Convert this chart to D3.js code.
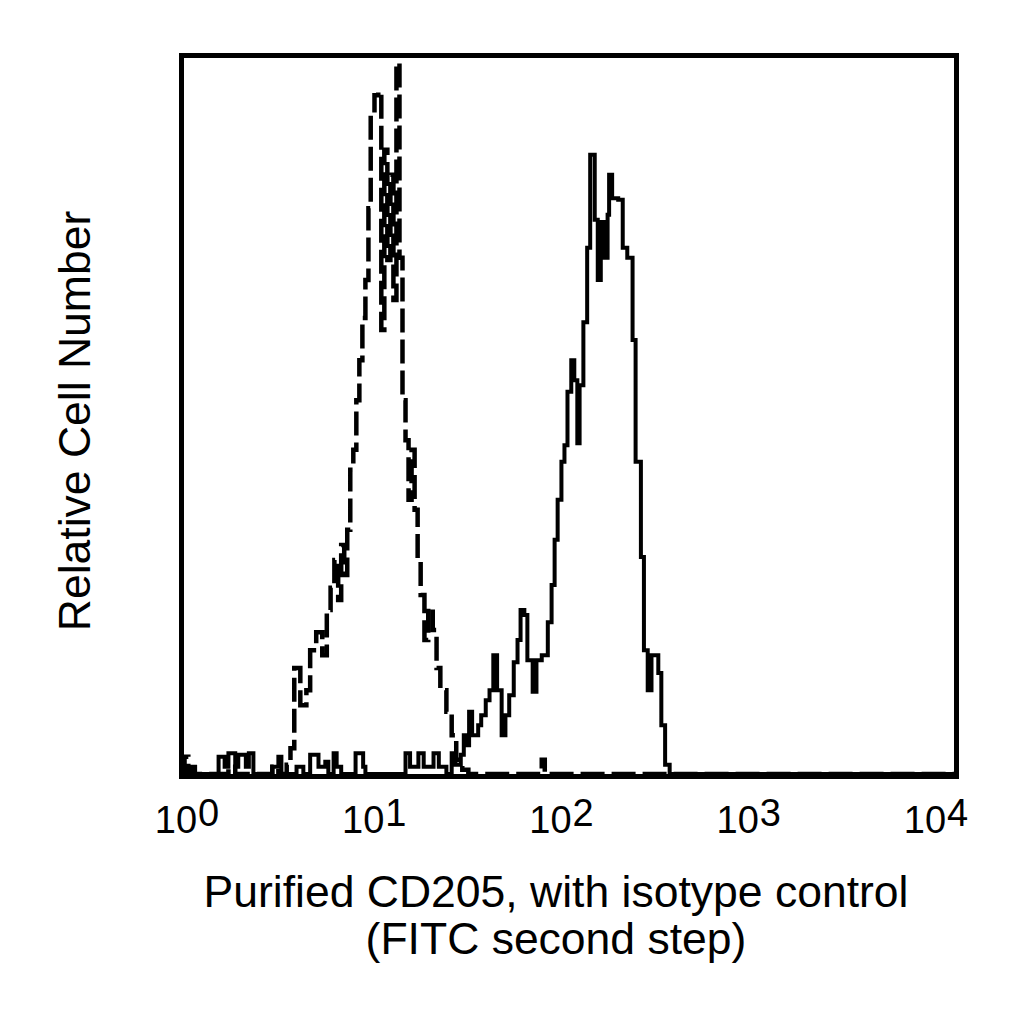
<!DOCTYPE html>
<html>
<head>
<meta charset="utf-8">
<script src="https://cdn.jsdelivr.net/npm/d3@7"></script>
<style>
  html, body { margin: 0; padding: 0; background: #fff; }
  svg { display: block; }
  text { font-family: "Liberation Sans", Arial, sans-serif; fill: #000; }
</style>
</head>
<body>
<svg id="chart" width="1024" height="1024"></svg>
<script>
const WIDTH = 1024;
const HEIGHT = 1024;

// log-amplified channels (0-1024 over 4 decades) and relative counts
const isotypeChannels = [0, 4, 9, 62, 71, 120, 128, 139, 144, 149, 157, 165, 170, 178, 186, 192, 197, 202, 207, 211,
  215, 219, 223, 227, 231, 235, 239, 243, 247, 250, 255, 260, 264, 268, 272, 276, 280, 284, 288, 292,
  296, 300, 304, 308, 312, 316, 321, 326, 332, 337, 342, 350, 357, 363, 371, 379, 473, 476, 480, 1024];
const isotypeCounts = [0, 2.4, 0, 1.0, 0, 1.0, 0, 1.3, 3.6, 14.8, 9.6, 11.7, 17.3, 19.8, 16.6, 22.9, 26.0, 29.9, 24.3, 32.0,
  27.8, 34.1, 42.5, 45.3, 52.2, 57.8, 63.7, 69.0, 79.0, 92.0, 94.8, 95.3, 62.0, 87.2, 71.8, 83.7, 66.2, 99.3, 72.1, 52.2,
  46.6, 38.3, 45.3, 36.9, 29.9, 25.0, 18.7, 23.2, 20.1, 14.8, 11.7, 8.7, 5.4, 2.0, 0.6, 0, 0, 2.0, 0, 0];

const cd205Channels = [0, 13, 18, 49, 57, 62, 71, 75, 85, 89, 95, 120, 128, 132, 152, 161, 170, 181, 190, 194,
  201, 205, 211, 230, 240, 243, 296, 302, 313, 320, 333, 340, 350, 357, 362, 369, 373, 378, 380, 384,
  392, 396, 402, 407, 412, 417, 423, 428, 433, 439, 444, 448, 453, 457, 464, 469, 476, 484, 489, 493,
  497, 502, 506, 510, 515, 519, 523, 526, 531, 536, 540, 546, 550, 554, 559, 563, 565, 569, 577, 583,
  589, 596, 600, 607, 611, 616, 621, 626, 630, 634, 639, 645, 1024];
const cd205Counts = [0, 1.0, 0, 2.4, 1.0, 2.9, 1.0, 2.7, 1.0, 2.9, 0, 1.0, 2.4, 0, 1.0, 0, 2.7, 1.0, 1.7, 0,
  2.9, 1.0, 0, 2.9, 1.0, 0, 2.9, 1.0, 2.9, 1.0, 2.9, 1.0, 0, 2.9, 1.3, 2.7, 5.4, 4.0, 8.7, 5.4,
  6.8, 8.2, 10.3, 11.7, 16.6, 11.7, 5.4, 8.2, 11.0, 15.6, 18.7, 22.9, 22.2, 15.9, 11.5, 15.9, 16.6, 21.2, 26.4, 32.7,
  38.3, 43.6, 45.9, 53.4, 57.8, 55.0, 46.2, 54.3, 63.1, 73.5, 86.5, 77.4, 69.0, 77.1, 72.1, 78.1, 83.7, 80.4, 80.2, 73.5,
  72.1, 60.6, 43.6, 30.3, 17.3, 11.7, 16.6, 16.6, 14.1, 6.8, 1.3, 0, 0];

const tickExponents = [0, 1, 2, 3, 4];
const xTitleLines = ['Purified CD205, with isotype control', '(FITC second step)'];
const yTitle = 'Relative Cell Number';

const svg = d3.select('#chart');
const margin = { top: 55.5, right: 67.5, bottom: 247.5, left: 181.5 };
const width = WIDTH - margin.left - margin.right;
const height = HEIGHT - margin.top - margin.bottom;

const toIntensity = (ch) => Math.pow(10, ch / 256);

const x = d3.scaleLog().domain([1, 1e4]).range([0, width]);
const y = d3.scaleLinear().domain([0, 100]).range([height - 2.5, 2.5]);

const chart = svg.append('g').attr('transform', `translate(${margin.left},${margin.top})`);

const line = d3.line()
  .x((d) => x(toIntensity(d[0])))
  .y((d) => y(d[1]))
  .curve(d3.curveStepAfter);

const isotype = isotypeChannels.map((c, i) => [c, isotypeCounts[i]]);
const cd205 = cd205Channels.map((c, i) => [c, cd205Counts[i]]);

chart.append('path')
  .datum(isotype)
  .attr('d', line)
  .attr('fill', 'none')
  .attr('stroke', '#000')
  .attr('stroke-width', 4.5)
  .attr('stroke-dasharray', '24,7');

chart.append('path')
  .datum(cd205)
  .attr('d', line)
  .attr('fill', 'none')
  .attr('stroke', '#000')
  .attr('stroke-width', 4);

// frame
chart.append('rect')
  .attr('x', 0).attr('y', 0)
  .attr('width', width).attr('height', height)
  .attr('fill', 'none')
  .attr('stroke', '#000')
  .attr('stroke-width', 5);

// tick labels sit a bit inside the decade marks in the original
const labelX = d3.scalePoint().domain(tickExponents).range([5, width - 21]);

const axis = chart.append('g')
  .attr('transform', `translate(0,${height})`)
  .call(d3.axisBottom(labelX).tickSize(0).tickFormat(''));
axis.select('.domain').remove();
axis.selectAll('.tick text')
  .attr('y', 56).attr('dy', 0)
  .attr('font-size', 38)
  .attr('font-family', '"Liberation Sans", Arial, sans-serif')
  .attr('fill', '#000')
  .attr('text-anchor', 'middle')
  .each(function (d) {
    const t = d3.select(this);
    t.text(null);
    t.append('tspan').text('10');
    t.append('tspan').attr('dx', 1).attr('dy', -7).text(d);
  });

// axis titles
svg.append('text')
  .attr('x', 556)
  .attr('text-anchor', 'middle')
  .attr('font-size', 44.5)
  .selectAll('tspan')
  .data(xTitleLines)
  .enter()
  .append('tspan')
  .attr('x', 556)
  .attr('y', (d, i) => 907 + i * 47)
  .text((d) => d);

svg.append('text')
  .attr('transform', 'translate(90,421) rotate(-90)')
  .attr('text-anchor', 'middle')
  .attr('font-size', 44.5)
  .text(yTitle);
</script>
</body>
</html>
